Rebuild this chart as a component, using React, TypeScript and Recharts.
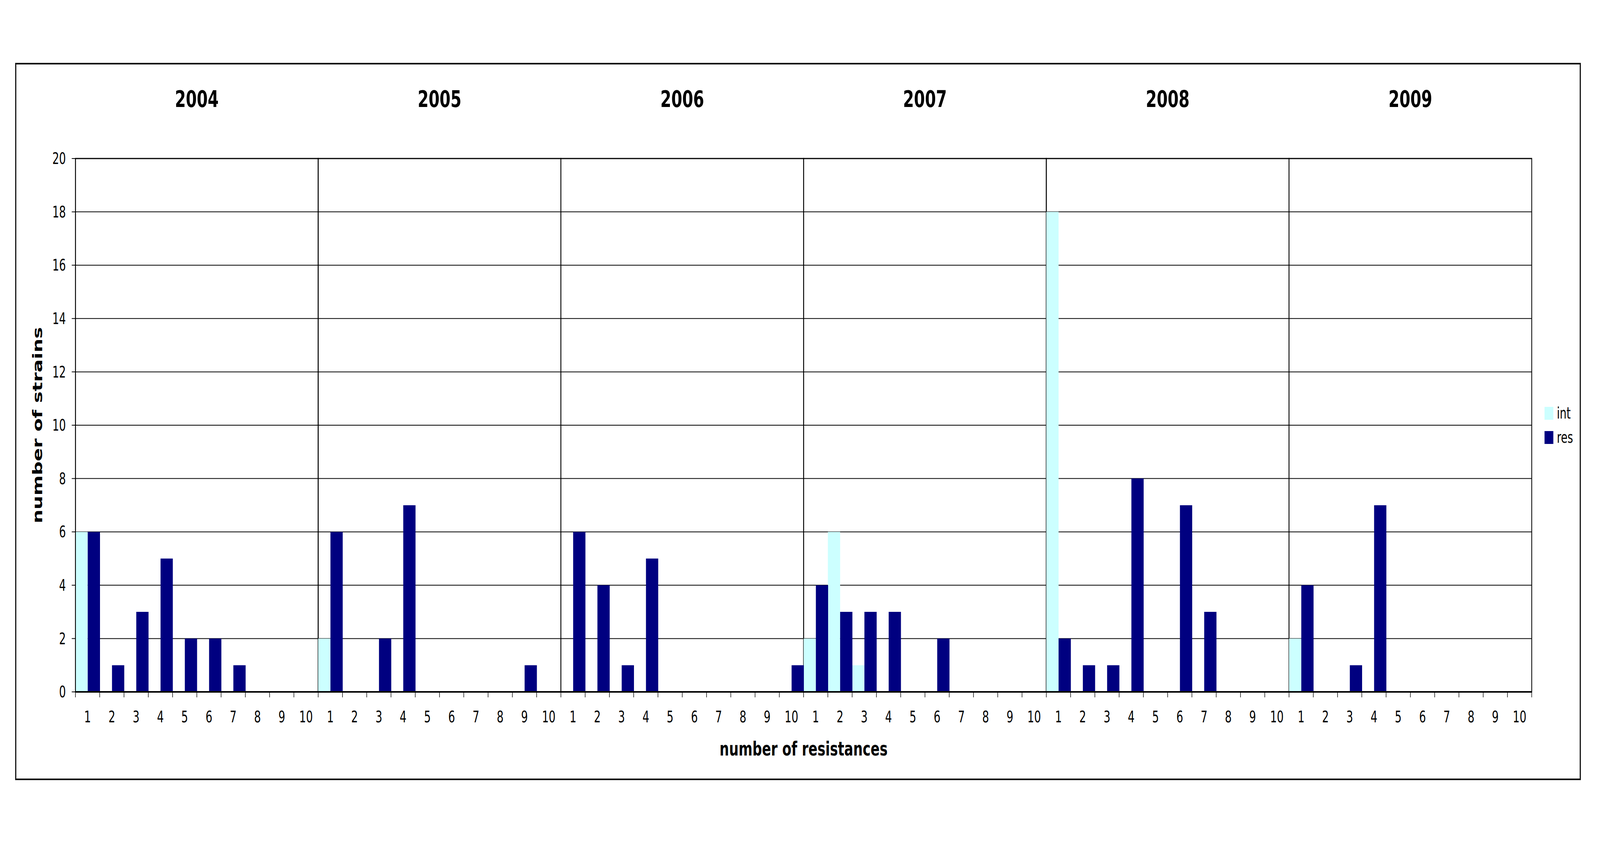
import { BarChart, Bar, XAxis, YAxis, CartesianGrid, ReferenceArea, Legend, Label } from "recharts";

const YEARS = ["2004", "2005", "2006", "2007", "2008", "2009"];
const RESISTANCES = ["1", "2", "3", "4", "5", "6", "7", "8", "9", "10"];

// intermediate strains per number of resistances
const INT_2004 = [6, 0, 0, 0, 0, 0, 0, 0, 0, 0];
const INT_2005 = [2, 0, 0, 0, 0, 0, 0, 0, 0, 0];
const INT_2006 = [0, 0, 0, 0, 0, 0, 0, 0, 0, 0];
const INT_2007 = [2, 6, 1, 0, 0, 0, 0, 0, 0, 0];
const INT_2008 = [18, 0, 0, 0, 0, 0, 0, 0, 0, 0];
const INT_2009 = [2, 0, 0, 0, 0, 0, 0, 0, 0, 0];

// resistant strains per number of resistances
const RES_2004 = [6, 1, 3, 5, 2, 2, 1, 0, 0, 0];
const RES_2005 = [6, 0, 2, 7, 0, 0, 0, 0, 1, 0];
const RES_2006 = [6, 4, 1, 5, 0, 0, 0, 0, 0, 1];
const RES_2007 = [4, 3, 3, 3, 0, 2, 0, 0, 0, 0];
const RES_2008 = [2, 1, 1, 8, 0, 7, 3, 0, 0, 0];
const RES_2009 = [4, 0, 1, 7, 0, 0, 0, 0, 0, 0];

const Y_TICKS = [0, 2, 4, 6, 8, 10, 12, 14, 16, 18, 20];

const INT_BY_YEAR = [INT_2004, INT_2005, INT_2006, INT_2007, INT_2008, INT_2009];
const RES_BY_YEAR = [RES_2004, RES_2005, RES_2006, RES_2007, RES_2008, RES_2009];

const chartData = YEARS.flatMap((year, yi) =>
  RESISTANCES.map((r, ri) => ({
    key: `${year}-${r}`,
    label: r,
    int: INT_BY_YEAR[yi][ri],
    res: RES_BY_YEAR[yi][ri],
  }))
);

const FONT = "'DejaVu Sans', Verdana, sans-serif";
const W = 6000;
const H = 2200;
const PLOT_LEFT = 283;
const PLOT_TOP = 406;
const PLOT_RIGHT = 5744;
const PLOT_BOTTOM = 1772;
const Y_AXIS_W = 80;
const X_AXIS_H = 200;
const BAND = (PLOT_RIGHT - PLOT_LEFT) / chartData.length;

if (typeof document !== "undefined") {
  document.documentElement.style.overflow = "hidden";
  document.body.style.margin = "0";
  document.body.style.overflow = "hidden";
}

// the browser caps the window below 6000px wide, so stretch the 6000x2200 drawing onto whatever viewport we get
const VIEW_W = typeof window !== "undefined" && window.innerWidth ? window.innerWidth : W;
const VIEW_H = typeof window !== "undefined" && window.innerHeight ? window.innerHeight : H;
const SCALE_X = VIEW_W / W;
const SCALE_Y = VIEW_H / H;

function ResistanceTick(props: any) {
  const { x, y, index } = props;
  const half = BAND / 2;
  const last = index === chartData.length - 1;
  return (
    <g>
      <line x1={x - half} x2={x - half} y1={y} y2={y + 14} stroke="#000" strokeWidth={2} />
      {last && <line x1={x + half} x2={x + half} y1={y} y2={y + 14} stroke="#000" strokeWidth={2} />}
      <text x={x} y={y + 64} textAnchor="middle" dominantBaseline="central" fontSize={40} fontFamily={FONT} fill="#000">
        {chartData[index]?.label}
      </text>
    </g>
  );
}

function LegendBox(props: any) {
  const items = props.payload || [];
  return (
    <div style={{ fontFamily: FONT, fontSize: 40, color: "#000" }}>
      {items.map((it: any) => (
        <div key={it.value} style={{ display: "flex", alignItems: "center", height: 62 }}>
          <span style={{ width: 33, height: 33, background: it.color, marginRight: 13, display: "inline-block" }} />
          <span>{it.value}</span>
        </div>
      ))}
    </div>
  );
}

export default function App() {
  return (
    <div style={{ width: VIEW_W, height: VIEW_H, overflow: "hidden", background: "#fff" }}>
      <div
        style={{
          position: "relative",
          width: W,
          height: H,
          background: "#fff",
          transform: `scale(${SCALE_X}, ${SCALE_Y})`,
          transformOrigin: "0 0",
        }}
      >
        <div
          style={{
            position: "absolute",
            left: 57,
            top: 161,
            width: 5928 - 57,
            height: 1998 - 161,
            border: "4px solid #000",
            boxSizing: "border-box",
          }}
        />
        <div style={{ position: "absolute", left: 0, top: 0 }}>
          <BarChart
            width={W}
            height={H}
            data={chartData}
            barCategoryGap={0}
            barGap={0}
            margin={{ top: PLOT_TOP, right: W - PLOT_RIGHT, bottom: H - PLOT_BOTTOM - X_AXIS_H, left: PLOT_LEFT - Y_AXIS_W }}
          >
            <CartesianGrid vertical={false} stroke="#000" strokeWidth={2} />
            <XAxis
              dataKey="key"
              interval={0}
              height={X_AXIS_H}
              tickLine={false}
              tickSize={0}
              tickMargin={0}
              axisLine={{ stroke: "#000", strokeWidth: 4 }}
              tick={<ResistanceTick />}
            >
              <Label
                content={(p: any) => {
                  const vb = p.viewBox || {};
                  return (
                    <text x={vb.x + vb.width / 2} y={vb.y + 145} textAnchor="middle" dominantBaseline="central" fontSize={50} fontWeight="bold" fontFamily={FONT} fill="#000">
                      number of resistances
                    </text>
                  );
                }}
              />
            </XAxis>
            <YAxis
              width={Y_AXIS_W}
              domain={[0, 20]}
              ticks={Y_TICKS}
              interval={0}
              tickSize={14}
              tickMargin={22}
              tickLine={{ stroke: "#000", strokeWidth: 2 }}
              axisLine={{ stroke: "#000", strokeWidth: 3 }}
              tick={{ fontSize: 40, fontFamily: FONT, fill: "#000" }}
            >
              <Label
                content={(p: any) => {
                  const vb = p.viewBox || {};
                  const cx = 140;
                  const cy = vb.y + vb.height / 2;
                  return (
                    <text x={cx} y={cy} transform={`rotate(-90, ${cx}, ${cy})`} textAnchor="middle" dominantBaseline="central" fontSize={50} fontWeight="bold" fontFamily={FONT} fill="#000">
                      number of strains
                    </text>
                  );
                }}
              />
            </YAxis>
            <Legend
              layout="horizontal"
              verticalAlign="middle"
              align="center"
              content={<LegendBox />}
              wrapperStyle={{ position: "absolute", left: 5792, top: 1027, width: 150 }}
            />
            <Bar dataKey="int" name="int" fill="#CCFFFF" isAnimationActive={false} />
            <Bar dataKey="res" name="res" fill="#000080" isAnimationActive={false} />
            {YEARS.map((year) => (
              <ReferenceArea
                key={year}
                x1={`${year}-${RESISTANCES[0]}`}
                x2={`${year}-${RESISTANCES[RESISTANCES.length - 1]}`}
                fill="none"
                fillOpacity={0}
                stroke="#000"
                strokeWidth={3}
                strokeOpacity={1}
                ifOverflow="visible"
                label={{ value: year, position: "top", offset: 132, fontSize: 59, fontWeight: "bold", fontFamily: FONT, fill: "#000" }}
              />
            ))}
          </BarChart>
        </div>
      </div>
    </div>
  );
}
